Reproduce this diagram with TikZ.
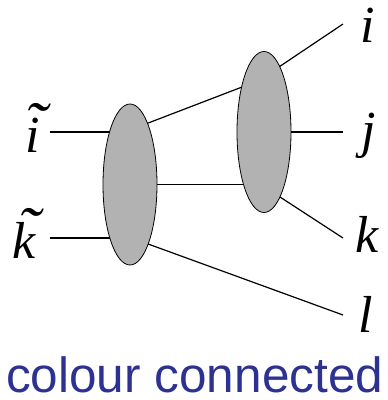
\documentclass[tikz,border=0pt]{standalone}
\usepackage{fontspec}
\setmainfont{Liberation Serif}
\newfontfamily\sansf{Liberation Sans}
\usetikzlibrary{shapes.geometric,backgrounds}
\definecolor{capblue}{RGB}{45,50,145}
\definecolor{blobgray}{RGB}{178,178,178}
\newcommand\tld[2][0.08em]{\makebox[0pt][l]{\hspace{#1}\raisebox{0.15em}{\scalebox{1.3}[1.2]{\char"02DC}}}#2}
\begin{document}
\begin{tikzpicture}[x=1pt,y=1pt,
  blob/.style={ellipse,draw=black,line width=0.8pt,fill=blobgray,inner sep=0pt,minimum width=54pt,minimum height=161pt},
  leg/.style={line width=1.2pt,black},
  lab/.style={font=\fontsize{52}{52}\selectfont\itshape,inner sep=0pt,anchor=base}]
\useasboundingbox (0,0) rectangle (388,400);
% blobs
\node[blob] (L) at (130,215.5) {};
\node[blob] (R) at (264,268) {};
% labels
\node[lab] (ti) at (33,247) {\tld[-0.02em]{i}};
\node[lab] (tk) at (24,142) {\tld[0.1em]{k}};
\node[lab] (i) at (368,357) {i};
\node[lab] (j) at (369,252) {j};
\node[lab] (k) at (367,147) {k};
\node[lab] (l) at (366,67) {l};
\node[font=\sansf\fontsize{49.5}{49.5}\selectfont,text=capblue,inner sep=0pt,anchor=base west] (cap) at (6,8) {colour connected};
% leg end points
\coordinate (ati) at (50,268);
\coordinate (atk) at (50,162);
\coordinate (ai) at (343,376);
\coordinate (aj) at (343,268);
\coordinate (ak) at (343,162);
\coordinate (al) at (343,85);
\coordinate (Lu) at (130,270);
\coordinate (Ru) at (264,321.4);
\coordinate (Ll) at (130,162.6);
\coordinate (Ri) at (264,323);
\coordinate (Rk) at (264,213.4);
\begin{scope}[on background layer]
\draw[leg] (ati) -- (ati -| L.center);
\draw[leg] (atk) -- (atk -| L.center);
\draw[leg] (Lu) -- (Ru);
\draw[leg] (L.center) -- (L.center -| R.center);
\draw[leg] (Ll) -- (al);
\draw[leg] (Ri) -- (ai);
\draw[leg] (R.center) -- (aj);
\draw[leg] (Rk) -- (ak);
\end{scope}
\end{tikzpicture}
\end{document}
